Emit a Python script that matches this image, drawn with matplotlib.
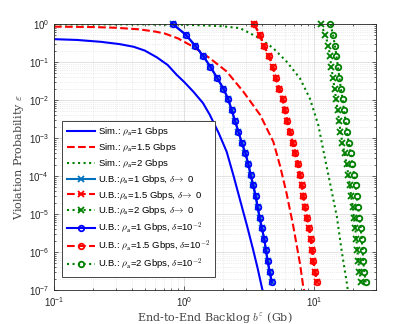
import numpy as np
import matplotlib
matplotlib.use('Agg')
import matplotlib.pyplot as plt

# simulation curves (x in Gb, y given as log10 of violation probability)
sim1_x = [0.1, 0.15, 0.23, 0.32, 0.41, 0.5, 0.62, 0.75, 0.88, 1.0, 1.18, 1.4, 1.58, 1.85, 2.13, 2.4, 2.7, 3.05, 3.41, 3.7, 3.96, 4.05]
sim1_logy = [-0.40, -0.42, -0.47, -0.53, -0.60, -0.70, -0.88, -1.08, -1.34, -1.52, -1.78, -2.08, -2.39, -2.87, -3.36, -3.98, -4.63, -5.3, -5.95, -6.45, -6.91, -7.05]
sim15_x = [0.1, 0.2, 0.3, 0.45, 0.6, 0.71, 0.9, 1.18, 1.58, 2.13, 2.86, 3.85, 4.87, 5.5, 6.16, 6.94, 7.8, 8.27, 8.45]
sim15_logy = [-0.07, -0.08, -0.10, -0.14, -0.2, -0.25, -0.38, -0.6, -0.9, -1.25, -1.78, -2.39, -3.1, -3.75, -4.46, -5.33, -6.3, -6.91, -7.05]
sim2_x = [0.1, 0.5, 1.0, 1.5, 2.0, 2.7, 3.84, 4.87, 6.16, 7.8, 9.3, 10.8, 11.8, 13.3, 15.0, 16.3, 17.9, 18.3]
sim2_logy = [-0.01, -0.01, -0.02, -0.04, -0.06, -0.11, -0.38, -0.64, -0.99, -1.43, -1.96, -2.66, -3.32, -4.19, -5.07, -5.95, -6.82, -7.05]

# upper bound points (same epsilon levels for every bound curve)
ub_logy = [0, -0.28, -0.57, -0.85, -1.13, -1.42, -1.70, -1.98, -2.27, -2.55, -2.83, -3.12, -3.40,
           -3.68, -3.97, -4.25, -4.53, -4.82, -5.10, -5.38, -5.67, -5.95, -6.23, -6.52, -6.80]
ub1_x = [0.819, 1.03, 1.22, 1.41, 1.60, 1.80, 2.01, 2.19, 2.33, 2.47, 2.62, 2.78, 2.97,
         3.12, 3.26, 3.41, 3.56, 3.69, 3.82, 3.98, 4.15, 4.27, 4.40, 4.56, 4.75]
ub15_x = [3.45, 3.84, 4.12, 4.53, 4.81, 5.10, 5.41, 5.74, 5.98, 6.23, 6.54, 6.86, 7.21,
          7.57, 7.80, 8.04, 8.27, 8.53, 8.88, 9.20, 9.44, 9.71, 9.88, 10.18, 10.6]
ub2_x_d0 = [11.3, 12.2, 12.9, 13.3, 13.6, 14.0, 14.4, 14.8, 15.2, 15.6, 16.0, 16.5, 17.2,
            17.8, 18.4, 18.9, 19.3, 19.9, 20.3, 20.8, 21.2, 21.6, 21.9, 22.4, 23.0]
ub2_x = [13.4, 14.0, 14.5, 14.9, 15.3, 15.7, 16.1, 16.6, 17.0, 17.5, 17.9, 18.5, 19.2,
         19.7, 20.4, 20.9, 21.3, 21.9, 22.3, 22.9, 23.3, 23.7, 23.9, 24.4, 25.0]

plt.rcParams['font.family'] = ['Liberation Sans', 'DejaVu Sans']
plt.rcParams['mathtext.fontset'] = 'cm'

fig = plt.figure(figsize=(4.15, 3.24), dpi=100)
ax = fig.add_axes([0.130, 0.105, 0.776, 0.821])

uby = 10.0 ** np.array(ub_logy)

ax.plot(sim1_x, 10.0 ** np.array(sim1_logy), '-', color='#0000FF', lw=1.5, label=r'Sim.: $\rho_{\mathsf{a}}$=1 Gbps')
ax.plot(sim15_x, 10.0 ** np.array(sim15_logy), '--', color='#FF0000', lw=1.5, label=r'Sim.: $\rho_{\mathsf{a}}$=1.5 Gbps')
ax.plot(sim2_x, 10.0 ** np.array(sim2_logy), ':', color='#008000', lw=1.5, label=r'Sim.: $\rho_{\mathsf{a}}$=2 Gbps')

mk = dict(ms=4, mew=1.3, lw=1.5, clip_on=False)
ax.plot(ub1_x, uby, '-x', color='#0072BD', label=r'U.B.:$\rho_{\mathsf{a}}$=1 Gbps, $\delta\!\rightarrow$ 0', **mk)
ax.plot(ub15_x, uby, '--x', color='#FF0000', label=r'U.B.:$\rho_{\mathsf{a}}$=1.5 Gbps, $\delta\!\rightarrow$ 0', **mk)
ax.plot(ub2_x_d0, uby, ':x', color='#008000', label=r'U.B.:$\rho_{\mathsf{a}}$=2 Gbps, $\delta\!\rightarrow$ 0', **mk)
ax.plot(ub1_x, uby, '-o', color='#0000FF', mfc='none', label=r'U.B.: $\rho_{\mathsf{a}}$=1 Gbps, $\delta$=10$^{-2}$', **mk)
ax.plot(ub15_x, uby, '--o', color='#FF0000', mfc='none', label=r'U.B.: $\rho_{\mathsf{a}}$=1.5 Gbps, $\delta$=10$^{-2}$', **mk)
ax.plot(ub2_x, uby, ':o', color='#008000', mfc='none', label=r'U.B.: $\rho_{\mathsf{a}}$=2 Gbps, $\delta$=10$^{-2}$', **mk)

ax.set_xscale('log')
ax.set_yscale('log')
ax.set_xlim(0.1, 30)
ax.set_ylim(1e-7, 1)
ax.set_yticks([1e-7, 1e-6, 1e-5, 1e-4, 1e-3, 1e-2, 1e-1, 1])
ax.set_xticks([0.1, 1, 10])

# matlab style grid and box
ax.grid(True, which='major', color='#dddddd', lw=0.6)
ax.grid(True, which='minor', color='#dddddd', lw=0.5, ls=':')
ax.set_axisbelow(True)
ax.tick_params(which='both', direction='in', top=True, right=True, labelsize=7, colors='#262626', width=0.5)
ax.tick_params(which='major', length=3)
ax.tick_params(which='minor', length=1.5)
for s in ax.spines.values():
    s.set_color('#262626')
    s.set_linewidth(0.6)

ax.set_xlabel(r'End-to-End Backlog $b^{\varepsilon}$ (Gb)', fontsize=8, color='#444444', labelpad=1)
ax.set_ylabel(r'Violation Probability $\varepsilon$', fontsize=8, color='#444444', labelpad=2)
plt.setp([ax.xaxis.label, ax.yaxis.label], fontfamily=['DejaVu Serif'])

leg = ax.legend(loc='lower left', bbox_to_anchor=(0.025, 0.049), borderaxespad=0, fontsize=6.8,
                numpoints=1, handlelength=3.0, labelspacing=0.3, fancybox=False, framealpha=1,
                edgecolor='#262626', handletextpad=0.3, borderpad=0.5)
leg.get_frame().set_linewidth(0.6)

fig.savefig('out.png', dpi=100)
